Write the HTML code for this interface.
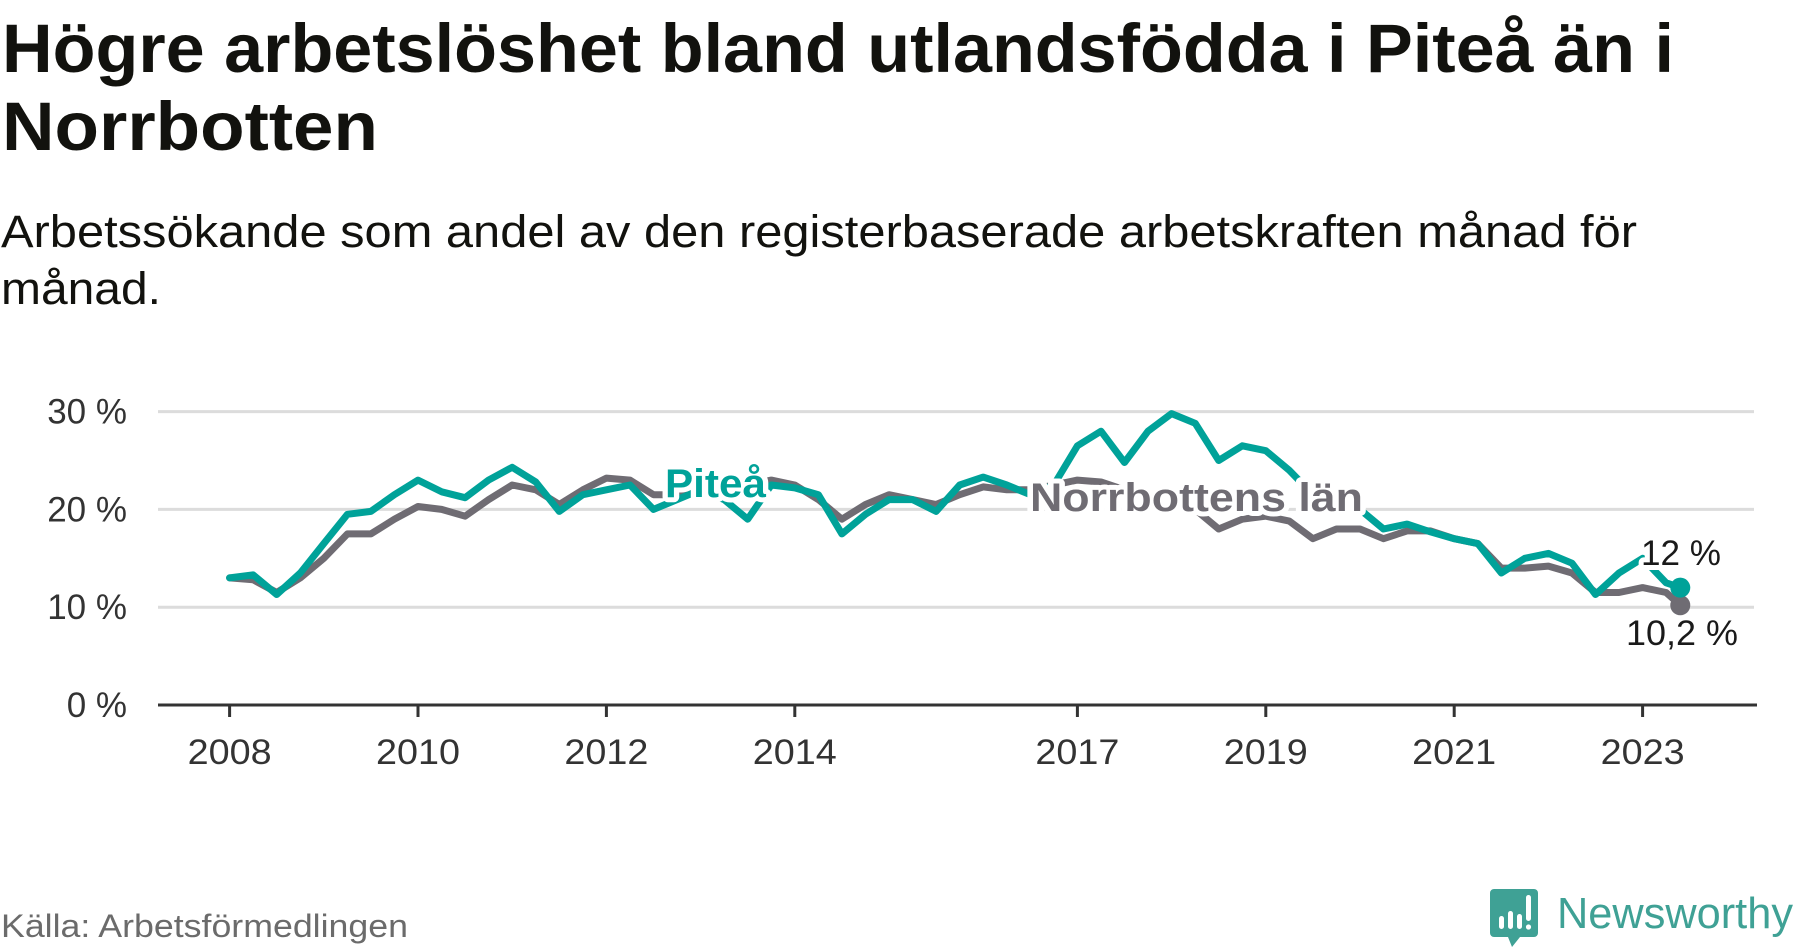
<!DOCTYPE html>
<html><head><meta charset="utf-8"><style>
html,body{margin:0;padding:0;background:#fff;}
svg{display:block;font-family:"Liberation Sans",sans-serif;}
</style></head><body>
<svg id="chart" width="1800" height="948" viewBox="0 0 1800 948" xmlns="http://www.w3.org/2000/svg">
<text x="2" y="72" font-size="69" font-weight="bold" fill="#12120e" textLength="1672" lengthAdjust="spacingAndGlyphs">Högre arbetslöshet bland utlandsfödda i Piteå än i</text>
<text x="2" y="150" font-size="69" font-weight="bold" fill="#12120e" textLength="376" lengthAdjust="spacingAndGlyphs">Norrbotten</text>
<text x="1" y="247" font-size="45" fill="#12120e" textLength="1636" lengthAdjust="spacingAndGlyphs">Arbetssökande som andel av den registerbaserade arbetskraften månad för</text>
<text x="1" y="304" font-size="45" fill="#12120e" textLength="160" lengthAdjust="spacingAndGlyphs">månad.</text>
<g id="grid"></g>
<g id="xaxis"></g>
<g id="lines"></g>
<g id="labels"></g>
<text x="1" y="937" font-size="32" fill="#6b6b6b" textLength="407" lengthAdjust="spacingAndGlyphs">Källa: Arbetsförmedlingen</text>
<g>
<path d="M1494 889 h40 a4 4 0 0 1 4 4 v40 a4 4 0 0 1 -4 4 h-14 l-8 10 l-4 -10 h-14 a4 4 0 0 1 -4 -4 v-40 a4 4 0 0 1 4 -4z" fill="#3fa195"/>
<rect x="1499" y="916" width="5" height="13" rx="2.5" fill="#fff"/>
<rect x="1508" y="911" width="5" height="18" rx="2.5" fill="#fff"/>
<rect x="1517" y="914" width="5" height="15" rx="2.5" fill="#fff"/>
<rect x="1526" y="895" width="5" height="26" rx="2.5" fill="#fff"/>
<circle cx="1528.5" cy="927" r="2.6" fill="#fff"/>
<text x="1557" y="928" font-size="44" fill="#3fa195" textLength="236" lengthAdjust="spacingAndGlyphs">Newsworthy</text>
</g>
</svg>
<script>
const yTicks = [0, 10, 20, 30];
const xTickYears = [2008, 2010, 2012, 2014, 2017, 2019, 2021, 2023];
// quarterly time points, 2008.0 .. 2023.25, then final 2023.4
const times = [2008,2008.25,2008.5,2008.75,2009,2009.25,2009.5,2009.75,2010,2010.25,2010.5,2010.75,2011,2011.25,2011.5,2011.75,2012,2012.25,2012.5,2012.75,2013,2013.25,2013.5,2013.75,2014,2014.25,2014.5,2014.75,2015,2015.25,2015.5,2015.75,2016,2016.25,2016.5,2016.75,2017,2017.25,2017.5,2017.75,2018,2018.25,2018.5,2018.75,2019,2019.25,2019.5,2019.75,2020,2020.25,2020.5,2020.75,2021,2021.25,2021.5,2021.75,2022,2022.25,2022.5,2022.75,2023,2023.25,2023.4];
const norrbotten = [13,12.8,11.5,13,15,17.5,17.5,19,20.3,20,19.3,21,22.5,22,20.5,22,23.2,23,21.5,21.5,22,22,22.5,23,22.5,21,19,20.5,21.5,21,20.5,21.5,22.3,22,22,22.5,23,22.8,22,21,20.5,20,18,19,19.3,18.8,17,18,18,17,17.8,17.8,17,16.5,14,14,14.2,13.5,11.5,11.5,12,11.5,10.2];
const pitea = [13,13.3,11.3,13.5,16.5,19.5,19.8,21.5,23,21.8,21.2,23,24.3,22.8,19.8,21.5,22,22.5,20,21,22,21,19,22.5,22.2,21.5,17.5,19.5,21,21,19.8,22.5,23.3,22.5,21.5,22.5,26.5,28,24.8,28,29.8,28.8,25,26.5,26,24,21.5,20.5,20,18,18.5,17.7,17,16.5,13.5,15,15.5,14.5,11.3,13.5,15,12.5,12];
const NS='http://www.w3.org/2000/svg';
const X0=158, X1=1754;
const xs = t => 229.6 + (t-2008)*94.2;
const ys = v => 705 - v*9.78;
function mk(tag, attrs, parent){const e=document.createElementNS(NS,tag);for(const k in attrs)e.setAttribute(k,attrs[k]);parent.appendChild(e);return e;}
const grid=document.getElementById('grid');
yTicks.forEach(v=>{
  if(v>0){const l=mk('line',{x1:X0,x2:X1,y1:ys(v),y2:ys(v),stroke:'#dcdcdc','stroke-width':3},grid);
  
  }
  const t=mk('text',{x:127,y:ys(v)+12,'text-anchor':'end','font-size':35,fill:'#333'},grid);
  t.textContent=v+' %';
  
  
});
const xa=document.getElementById('xaxis');
const ax=mk('line',{x1:X0,x2:X1+3,y1:705,y2:705,stroke:'#333','stroke-width':3},xa);


xTickYears.forEach(y=>{
  const tk=mk('line',{x1:xs(y),x2:xs(y),y1:705,y2:717,stroke:'#333','stroke-width':3},xa);
  
  
  const t=mk('text',{x:xs(y),y:764,'text-anchor':'middle','font-size':35,fill:'#333',textLength:84,lengthAdjust:'spacingAndGlyphs'},xa);
  t.textContent=y;
  
  
});
const lg=document.getElementById('lines');
function line(vals,color,name){
  const d=vals.map((v,i)=>(i?'L':'M')+xs(times[i]).toFixed(1)+' '+ys(v).toFixed(1)).join(' ');
  const p=mk('path',{d:d,fill:'none',stroke:color,'stroke-width':7,'stroke-linejoin':'round','stroke-linecap':'round'},lg);
  
  
  const n=vals.length-1;
  const c=mk('circle',{cx:xs(times[n]),cy:ys(vals[n]),r:10,fill:color},lg);
  
  
}
line(norrbotten,'#6f6c73','norrbotten-line');
line(pitea,'#00a299','pitea-line');
const lb=document.getElementById('labels');
function label(txt,x,y,color,bold,size,w,name){
  const t=mk('text',{x:x,y:y,'font-size':size,fill:color,'font-weight':bold?'bold':'normal',stroke:'#fff','stroke-width':10,'paint-order':'stroke','stroke-linejoin':'round',textLength:w,lengthAdjust:'spacingAndGlyphs'},lb);
  t.textContent=txt;
  
  
}
label('Piteå',665,497,'#00a299',true,40,101,'pitea-series-label');
label('Norrbottens län',1030,511,'#6f6c73',true,40,333,'norrbotten-series-label');
label(pitea[pitea.length-1]+' %',1641,565,'#1a1a1a',false,35,80,'pitea-end-value');
label(String(norrbotten[norrbotten.length-1]).replace('.',',')+' %',1626,645,'#1a1a1a',false,35,112,'norrbotten-end-value');
</script>
</body></html>
